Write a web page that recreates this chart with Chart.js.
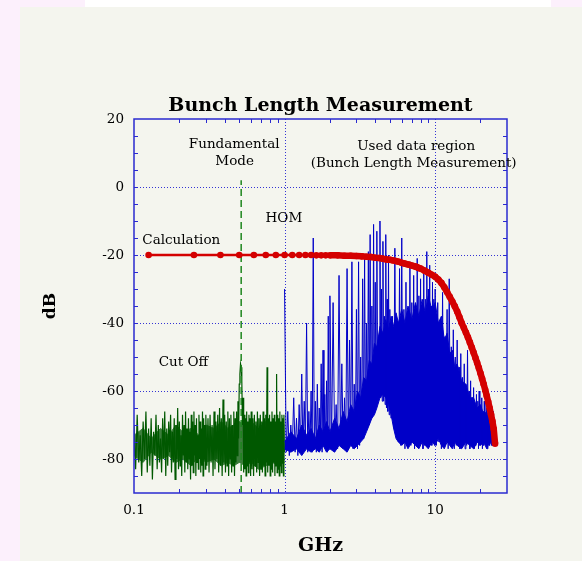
<!DOCTYPE html>
<html>
<head>
<meta charset="utf-8">
<script src="https://cdn.jsdelivr.net/npm/chart.js@4"></script>
<style>
  html, body { margin: 0; padding: 0; background: #fcf0fc; }
  #wrap { position: relative; width: 582px; height: 561px; overflow: hidden; }
  #strip { position: absolute; left: 85px; top: 0; width: 466px; height: 7px; background: #ffffff; }
  #panel { position: absolute; left: 20px; top: 7px; right: 0; bottom: 0; background: #f4f5ee; }
  #box { position: absolute; left: 0; top: 0; width: 582px; height: 561px; }
</style>
</head>
<body>
<div id="wrap">
  <div id="strip"></div>
  <div id="panel"></div>
  <div id="box"><canvas id="chart"></canvas></div>
</div>
<script>
// axes
const xTickLabels = [0.1, 1, 10];
const yTickLabels = [20, 0, -20, -40, -60, -80];
const xMinorTicks = [0.2, 0.3, 0.4, 0.5, 0.6, 0.7, 0.8, 0.9, 2, 3, 4, 5, 6, 7, 8, 9, 20];
const yMinorTicks = [15, 10, 5, 0, -5, -10, -15, -20, -25, -30, -35, -40, -45, -50, -55, -60, -65, -70, -75, -80, -85];
const xGridLines = [1, 10];
const yGridLines = [0, -20, -40, -60, -80];

// calculation (red)
const calcFreq = [0.125, 0.25, 0.375, 0.5, 0.625, 0.75, 0.875, 1, 1.125, 1.25, 1.375, 1.5, 1.625, 1.75, 1.875, 2,
  2.25, 2.5, 2.75, 3, 3.25, 3.5, 3.75, 4, 4.25, 4.5, 4.75, 5, 5.25, 5.5, 5.75, 6, 6.25, 6.5, 6.75, 7, 7.25, 7.5, 7.75, 8,
  8.5, 9, 9.5, 10, 10.5, 11, 11.5, 12, 12.5, 13, 13.5, 14, 14.5, 15, 15.5, 16, 16.5, 17, 17.5, 18, 18.5, 19, 19.5, 20,
  20.5, 21, 21.5, 22, 22.5, 23, 23.5, 24, 24.5, 25];
const calcDb = [-20, -20, -20, -20, -20, -20, -20, -20, -20, -20, -20, -20, -20.1, -20.1, -20.1, -20.1,
  -20.1, -20.2, -20.2, -20.3, -20.4, -20.5, -20.6, -20.8, -20.9, -21.1, -21.3, -21.4, -21.6, -21.8, -22, -22.3, -22.5, -22.7, -22.9, -23.1, -23.3, -23.5, -23.8, -24,
  -24.6, -25.2, -25.8, -26.4, -27.2, -28.2, -29.5, -30.9, -32.3, -33.7, -35.1, -36.6, -38.3, -40, -41.4, -42.8, -44.2, -45.7, -47.2, -48.7, -50.2, -51.7, -53.2, -54.8,
  -56.4, -58, -59.7, -61.4, -63.2, -65, -66.9, -68.9, -71.2, -75.5];

// fundamental mode marker (dashed)
const fundamentalFreq = [0.515, 0.515];
const fundamentalDb = [-90, 2];

// measured spectrum below cut off (green), three sweeps 0.1 .. 1 GHz
const cutOffSweep1 = { start: 0.1, step: 0.0025 };
const cutOffDb1 = [-70, -83, -67, -81, -73, -85, -69, -80, -66, -84,
  -71, -82, -68, -86, -72, -79, -67, -83, -70, -81,
  -74, -84, -68, -80, -66, -85, -71, -82, -69, -78,
  -67, -84, -72, -81, -68, -86, -70, -80, -65, -83,
  -69, -82, -73, -85, -67, -79, -70, -84, -66, -81,
  -71, -83, -68, -80, -72, -86, -67, -82, -69, -84,
  -66, -79, -70, -85, -68, -81, -73, -83, -67, -80,
  -69, -84, -71, -82, -66, -85, -68, -80, -70, -83,
  -67];
const cutOffSweep2 = { start: 0.305, step: 0.005 };
const cutOffDb2 = [-82, -68, -84, -67, -81, -70, -85, -66, -83, -69,
  -80, -67, -84, -65, -82, -68, -85, -62.5, -81, -67,
  -84, -69, -82, -66, -85, -68, -80, -67, -84, -70,
  -82, -66, -85, -68, -81, -66, -79, -63, -74, -58,
  -55, -52, -53, -57, -70, -62, -84, -67, -83, -68,
  -85, -66, -82, -69, -84, -67, -81, -68, -85, -66];
const cutOffSweep3 = { start: 0.6075, step: 0.0075 };
const cutOffDb3 = [-83, -68, -85, -67, -82, -69, -84, -66, -81, -68,
  -85, -67, -83, -69, -84, -66, -82, -68, -85, -67,
  -81, -53, -84, -68, -82, -67, -85, -69, -83, -66,
  -84, -68, -81, -67, -85, -69, -82, -55, -84, -67,
  -83, -68, -85, -66, -82, -69, -84, -67, -81, -68,
  -85, -67, -78];

// dense part of the green band: upper and lower edge
const cutOffCoreFreq = [0.1, 0.115, 0.13, 0.15, 0.17, 0.19, 0.21, 0.24, 0.27, 0.3, 0.34,
  0.38, 0.42, 0.46, 0.5, 0.55, 0.6, 0.67, 0.75, 0.83, 0.91, 1.0];
const cutOffCoreTop = [-73, -71, -74, -71, -73, -70, -72, -71, -73, -70, -71,
  -69, -71, -70, -69, -70, -69, -71, -69, -70, -69, -70];
const cutOffCoreBottom = [-79, -81, -78, -80, -79, -81, -80, -82, -79, -81, -80,
  -82, -81, -82, -81, -82, -81, -83, -82, -81, -82, -81];

// measured spectrum above 1 GHz (blue), four sweeps
const homSweepA = { start: 1.0, step: 0.025 };
const homDbA = [-30, -78, -66, -79, -70, -77, -62, -78, -68, -79, -64, -77, -55, -78, -63, -76, -40, -78, -66, -77,
  -60, -78, -15, -77, -63, -78, -58, -76, -65, -77, -52, -78, -48, -76, -61, -77, -57, -78, -38, -76, -32];
const homSweepB = { start: 2.05, step: 0.05 };
const homDbB = [-77, -34, -76, -64, -77, -26, -75, -52, -77, -62,
  -76, -24, -77, -45, -75, -22, -77, -58, -76, -36,
  -77, -22, -76, -50, -74, -27, -74, -21, -72, -40,
  -71, -19, -70, -14, -68, -35, -67, -11, -66, -28,
  -64, -13, -63, -44, -62, -10, -62, -30, -63, -16,
  -63, -38, -64, -14, -65, -33, -66, -20, -67, -36];
const homSweepC = { start: 5.1, step: 0.1 };
const homDbC = [-68, -38, -71, -18, -73, -42, -75, -24, -76, -15,
  -75, -36, -77, -28, -76, -40, -74, -22, -76, -34,
  -75, -26, -77, -38, -76, -21, -74, -32, -76, -27,
  -75, -36, -77, -24, -76, -33, -74, -19, -75, -30,
  -76, -23, -74, -35, -76, -28, -75, -33, -76, -30];
const homSweepD = { start: 10.2, step: 0.2 };
const homDbD = [-76, -34, -75, -40, -77, -31, -76, -44, -75, -36,
  -77, -27, -76, -47, -75, -42, -77, -50, -76, -45,
  -75, -53, -77, -49, -76, -56, -75, -52, -77, -58,
  -76, -48, -75, -60, -77, -57, -76, -62, -75, -59,
  -77, -64, -76, -61, -75, -63, -77, -60, -76, -65,
  -75, -62, -77, -66, -76, -63, -75, -67, -76, -65,
  -77, -68, -75, -64, -76, -69, -75, -66, -76, -68,
  -74, -66, -75, -70];

// dense part of the HOM band: upper and lower edge
const homCoreFreq = [1.0, 1.1, 1.2, 1.3, 1.4, 1.5, 1.6, 1.7, 1.8, 1.9, 2.0,
  2.15, 2.3, 2.45, 2.6, 2.75, 2.9, 3.05, 3.2, 3.35, 3.5, 3.65, 3.8, 3.95, 4.1,
  4.3, 4.5, 4.7, 4.9, 5.1, 5.3, 5.5, 5.7,
  6.0, 6.3, 6.6, 7.0, 7.4, 7.8, 8.2, 8.6, 9.0, 9.5,
  10, 10.5, 11, 11.5, 12, 12.5, 13, 13.5, 14,
  15, 16, 17, 18, 19, 20, 21, 22, 23, 24, 24.8];
const homCoreTop = [-75, -72, -74, -70, -73, -71, -74, -70, -72, -69, -72,
  -68, -71, -66, -69, -64, -66, -60, -62, -56, -57, -51, -52, -46, -47,
  -41, -43, -39, -42, -38, -41, -37, -40,
  -36, -40, -35, -39, -34, -38, -33, -37, -32, -36,
  -34, -40, -38, -45, -43, -49, -48, -53, -52,
  -57, -58, -62, -62, -65, -64, -67, -66, -68, -67, -71];
const homCoreBottom = [-77, -78, -77, -79, -77, -78, -77, -78, -76, -78, -77,
  -78, -76, -77, -78, -76, -77, -76, -75, -74, -72, -70, -68, -67, -65,
  -62, -61, -62, -64, -67, -71, -74, -75,
  -76, -75, -77, -75, -76, -77, -75, -76, -77, -75,
  -76, -74, -76, -77, -75, -76, -77, -75, -76,
  -77, -75, -76, -77, -75, -76, -75, -77, -75, -76, -74];

// annotations, anchored in data coordinates (GHz, dB)
const notes = [
  { text: 'Fundamental', f: 0.463, db: 12.6 },
  { text: 'Mode', f: 0.466, db: 7.6 },
  { text: 'HOM', f: 0.99, db: -9.4 },
  { text: 'Calculation', f: 0.206, db: -15.6 },
  { text: 'Used data region', f: 7.48, db: 12 },
  { text: '(Bunch Length Measurement)', f: 7.2, db: 6.8 },
  { text: 'Cut Off', f: 0.213, db: -51.5 }
];

function pairs(xs, ys) {
  return ys.map((y, i) => ({ x: xs[i], y: y }));
}
function sweep(s, ys) {
  return ys.map((y, i) => ({ x: +(s.start + s.step * i).toFixed(4), y: y }));
}

const blueColor = '#0000c8';
const greenColor = '#005800';
const redColor = '#d40000';
const serif = '"DejaVu Serif", serif';

function line(ctx, x1, y1, x2, y2) {
  ctx.beginPath();
  ctx.moveTo(x1, y1);
  ctx.lineTo(x2, y2);
  ctx.stroke();
}

const framePlugin = {
  id: 'frame',
  beforeDatasetsDraw(chart) {
    const { ctx, chartArea: a, scales: { x, y } } = chart;
    ctx.save();
    ctx.strokeStyle = '#3434d4';
    ctx.lineWidth = 1;
    ctx.setLineDash([1, 2]);
    xGridLines.forEach(v => {
      const px = Math.round(x.getPixelForValue(v)) + 0.5;
      line(ctx, px, a.top, px, a.bottom);
    });
    yGridLines.forEach(v => {
      const py = Math.round(y.getPixelForValue(v)) + 0.5;
      line(ctx, a.left, py, a.right, py);
    });
    ctx.restore();
  },
  afterDatasetsDraw(chart) {
    const { ctx, chartArea: a, scales: { x, y } } = chart;
    ctx.save();
    // frame + inside ticks
    ctx.strokeStyle = '#2a2ad0';
    ctx.lineWidth = 1.5;
    ctx.strokeRect(a.left, a.top, a.right - a.left, a.bottom - a.top);
    ctx.lineWidth = 1;
    yMinorTicks.forEach(v => {
      const py = Math.round(y.getPixelForValue(v)) + 0.5;
      line(ctx, a.left, py, a.left + 4, py);
      line(ctx, a.right - 4, py, a.right, py);
    });
    xMinorTicks.forEach(v => {
      const px = Math.round(x.getPixelForValue(v)) + 0.5;
      line(ctx, px, a.bottom, px, a.bottom - 4);
      line(ctx, px, a.top, px, a.top + 4);
    });

    // tick labels
    ctx.fillStyle = '#000';
    ctx.font = '13.5px ' + serif;
    ctx.textBaseline = 'middle';
    ctx.textAlign = 'right';
    yTickLabels.forEach(v => ctx.fillText(String(v), a.left - 10, y.getPixelForValue(v)));
    ctx.textAlign = 'center';
    xTickLabels.forEach(v => ctx.fillText(String(v), x.getPixelForValue(v), a.bottom + 17));

    // annotations
    notes.forEach(n => ctx.fillText(n.text, x.getPixelForValue(n.f), y.getPixelForValue(n.db)));

    // titles
    const cx = (a.left + a.right) / 2;
    ctx.font = 'bold 19px ' + serif;
    ctx.textBaseline = 'alphabetic';
    ctx.fillText('Bunch Length Measurement', cx, 111);
    ctx.textBaseline = 'middle';
    ctx.fillText('GHz', cx, 546);
    ctx.font = 'bold 17px ' + serif;
    ctx.translate(51, (a.top + a.bottom) / 2);
    ctx.rotate(-Math.PI / 2);
    ctx.fillText('dB', 0, 0);
    ctx.restore();
  }
};

new Chart(document.getElementById('chart'), {
  type: 'scatter',
  data: {
    datasets: [
      {
        label: 'Calculation',
        data: pairs(calcFreq, calcDb),
        showLine: true,
        borderColor: redColor,
        backgroundColor: redColor,
        borderWidth: 2.5,
        pointRadius: 3.3,
        pointBorderWidth: 0,
        segment: { borderWidth: c => (c.p0.parsed.x >= 2 ? 6.5 : 2.5) }
      },
      {
        label: 'Fundamental Mode',
        data: pairs(fundamentalFreq, fundamentalDb),
        showLine: true,
        borderColor: '#1f861f',
        borderWidth: 1.5,
        borderDash: [7, 4],
        pointRadius: 0
      },
      {
        label: 'HOM',
        data: sweep(homSweepA, homDbA).concat(sweep(homSweepB, homDbB), sweep(homSweepC, homDbC), sweep(homSweepD, homDbD)),
        showLine: true,
        borderColor: blueColor,
        borderWidth: 1,
        pointRadius: 0
      },
      {
        label: 'HOM core',
        data: pairs(homCoreFreq, homCoreTop),
        showLine: true,
        borderColor: blueColor,
        backgroundColor: blueColor,
        borderWidth: 1,
        pointRadius: 0,
        fill: '+1'
      },
      {
        label: 'HOM core bottom',
        data: pairs(homCoreFreq, homCoreBottom),
        showLine: true,
        borderColor: blueColor,
        borderWidth: 1,
        pointRadius: 0
      },
      {
        label: 'Cut Off',
        data: sweep(cutOffSweep1, cutOffDb1).concat(sweep(cutOffSweep2, cutOffDb2), sweep(cutOffSweep3, cutOffDb3)),
        showLine: true,
        borderColor: greenColor,
        borderWidth: 1.2,
        pointRadius: 0
      },
      {
        label: 'Cut Off core',
        data: pairs(cutOffCoreFreq, cutOffCoreTop),
        showLine: true,
        borderColor: '#3c7d3c',
        backgroundColor: '#3c7d3c',
        borderWidth: 1,
        pointRadius: 0,
        fill: '+1'
      },
      {
        label: 'Cut Off core bottom',
        data: pairs(cutOffCoreFreq, cutOffCoreBottom),
        showLine: true,
        borderColor: '#3c7d3c',
        borderWidth: 1,
        pointRadius: 0
      }
    ]
  },
  options: {
    responsive: true,
    maintainAspectRatio: false,
    animation: false,
    events: [],
    layout: { padding: { top: 119, right: 75, bottom: 0, left: 0 } },
    plugins: { legend: { display: false }, tooltip: { enabled: false } },
    scales: {
      x: {
        type: 'logarithmic',
        min: 0.1,
        max: 30,
        grid: { display: false, drawTicks: false },
        border: { display: false },
        ticks: { display: false },
        afterFit: s => { s.height = 68; }
      },
      y: {
        min: -90,
        max: 20,
        grid: { display: false, drawTicks: false },
        border: { display: false },
        ticks: { display: false },
        afterFit: s => { s.width = 134; }
      }
    }
  },
  plugins: [framePlugin]
});
</script>
</body>
</html>
